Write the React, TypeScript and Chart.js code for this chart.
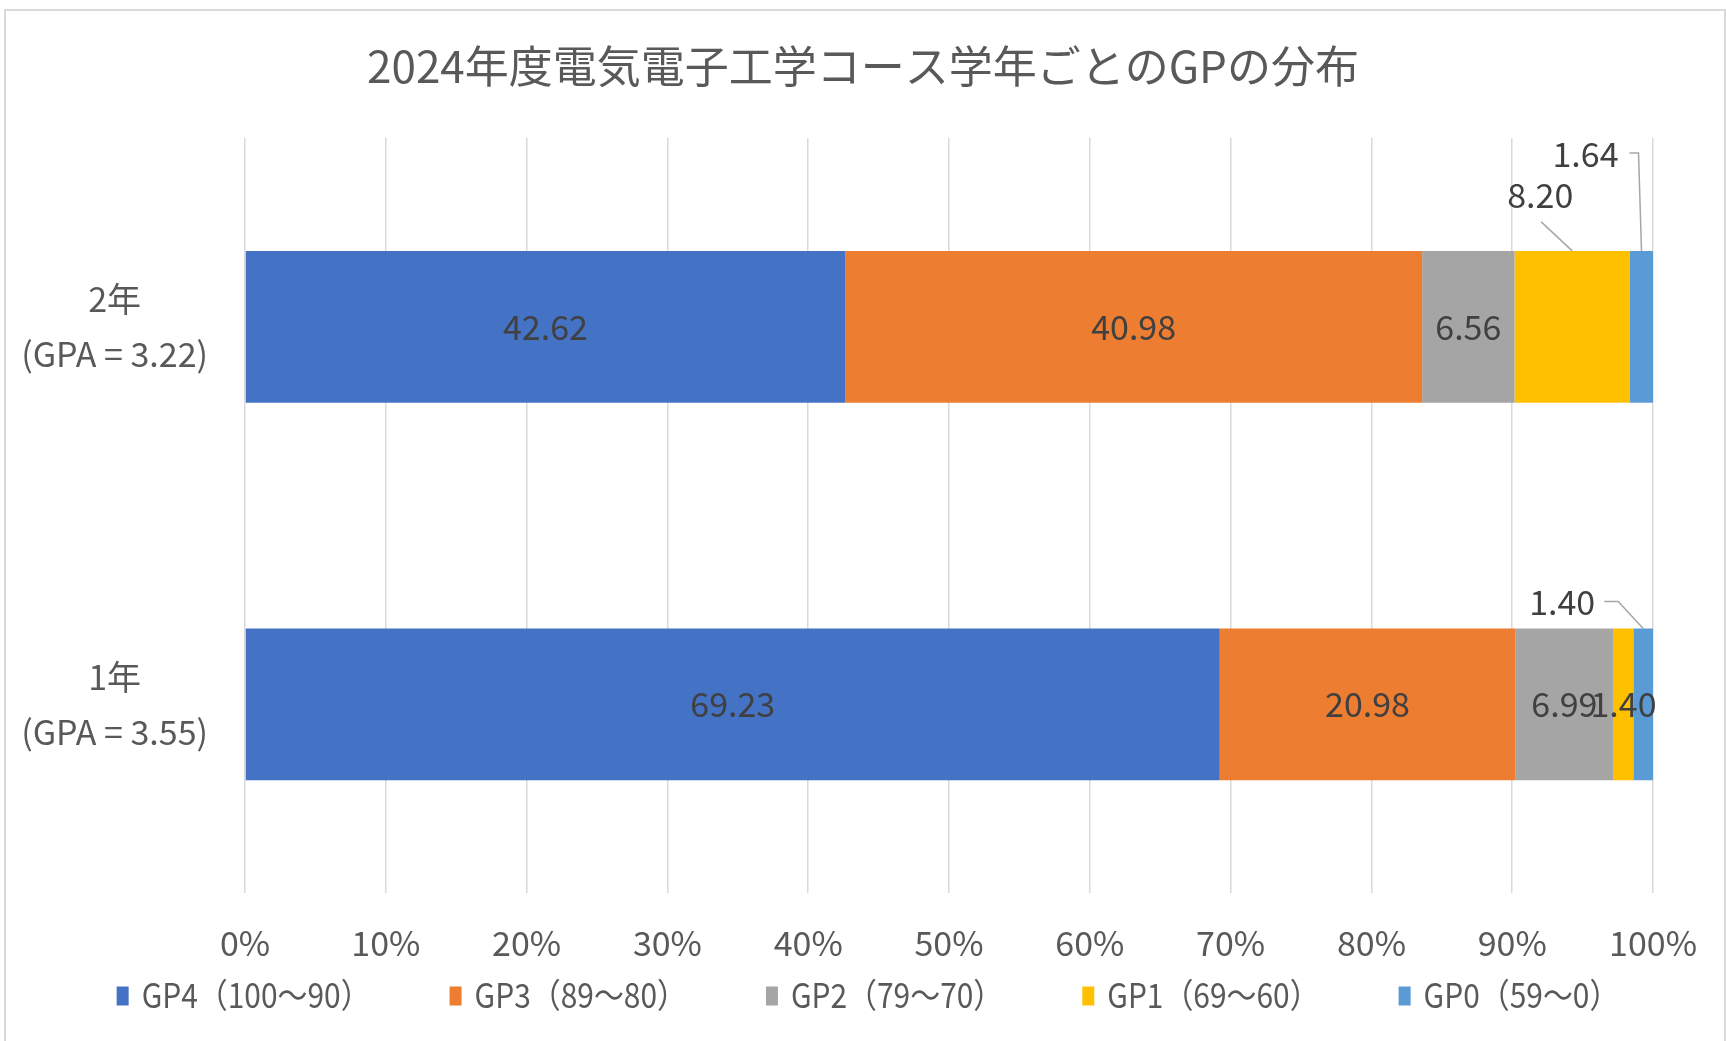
import React, { useEffect, useRef } from "react";
import { Chart, registerables } from "chart.js";

Chart.register(...registerables);

const FONT = "'Noto Sans CJK JP', 'Noto Sans', sans-serif";

const chartTitle = "2024年度電気電子工学コース学年ごとのGPの分布";
const categories = [
  ["2年", "(GPA = 3.22)"],
  ["1年", "(GPA = 3.55)"],
];
const seriesNames = ["GP4（100～90）", "GP3（89～80）", "GP2（79～70）", "GP1（69～60）", "GP0（59～0）"];
const gp4 = [42.62, 69.23];
const gp3 = [40.98, 20.98];
const gp2 = [6.56, 6.99];
const gp1 = [8.2, 1.4];
const gp0 = [1.64, 1.4];
const xTickLabels = ["0%", "10%", "20%", "30%", "40%", "50%", "60%", "70%", "80%", "90%", "100%"];
const seriesColors = ["#4472C4", "#ED7D31", "#A5A5A5", "#FFC000", "#5B9BD5"];

// callout labels (dataset-category): offsets relative to segment centre / bar top
const callouts: Record<string, { dx: number; dy: number; leader: string; gap?: number; run?: number }> = {
  "3-0": { dx: -32, dy: -56, leader: "below" },
  "4-0": { dx: -56, dy: -97, leader: "side", gap: 11, run: 9 },
  "4-1": { dx: -81, dy: -26, leader: "side", gap: 9, run: 14 },
};

const titlePlugin = {
  id: "centredTitle",
  afterDraw(chart: any) {
    const ctx = chart.ctx as CanvasRenderingContext2D;
    ctx.save();
    ctx.font = `44px ${FONT}`;
    ctx.fillStyle = "#595959";
    ctx.textAlign = "center";
    ctx.textBaseline = "middle";
    ctx.fillText(chartTitle, chart.width / 2, 66);
    ctx.restore();
  },
};

const labelPlugin = {
  id: "segLabels",
  afterDatasetsDraw(chart: any) {
    const ctx = chart.ctx as CanvasRenderingContext2D;
    ctx.save();
    ctx.font = `34px ${FONT}`;
    ctx.textAlign = "center";
    ctx.textBaseline = "middle";
    chart.data.datasets.forEach((ds: any, di: number) => {
      const meta = chart.getDatasetMeta(di);
      meta.data.forEach((el: any, i: number) => {
        const v = ds.data[i] as number;
        const cx = (el.x + el.base) / 2;
        const top = el.y - el.height / 2;
        const text = v.toFixed(2);
        const o = callouts[`${di}-${i}`];
        ctx.fillStyle = "#404040";
        if (!o) {
          ctx.fillText(text, cx, el.y);
          return;
        }
        const lx = cx + o.dx;
        const ly = top + o.dy;
        ctx.fillText(text, lx, ly);
        ctx.strokeStyle = "#A6A6A6";
        ctx.lineWidth = 1.5;
        ctx.beginPath();
        if (o.leader === "below") {
          ctx.moveTo(lx + 1, ly + 27);
          ctx.lineTo(cx, top);
        } else {
          const w = ctx.measureText(text).width;
          const sx = lx + w / 2 + (o.gap || 10);
          ctx.moveTo(sx, ly - 1);
          ctx.lineTo(sx + (o.run || 10), ly - 1);
          ctx.lineTo(cx, top);
        }
        ctx.stroke();
      });
    });
    ctx.restore();
  },
};

const legendPlugin = {
  id: "customLegend",
  afterDraw(chart: any) {
    const ctx = chart.ctx as CanvasRenderingContext2D;
    ctx.save();
    ctx.font = `34px ${FONT}`;
    const sx = 0.88;
    const items = chart.data.datasets.map((ds: any) => ({
      label: ds.label as string,
      color: ds.backgroundColor as string,
      w: ctx.measureText(ds.label).width * sx,
    }));
    const boxW = 12, boxH = 19, boxGap = 13, itemGap = 79;
    const total =
      items.reduce((a: number, it: any) => a + boxW + boxGap + it.w, 0) + itemGap * (items.length - 1);
    let x = (chart.width - total) / 2 + 5;
    const y = 995;
    items.forEach((it: any) => {
      ctx.fillStyle = it.color;
      ctx.fillRect(x, y - boxH / 2 + 1, boxW, boxH);
      x += boxW + boxGap;
      ctx.save();
      ctx.translate(x, y);
      ctx.scale(sx, 1);
      ctx.fillStyle = "#595959";
      ctx.textAlign = "left";
      ctx.textBaseline = "middle";
      ctx.fillText(it.label, 0, 0);
      ctx.restore();
      x += it.w + itemGap;
    });
    ctx.restore();
  },
};

export default function App() {
  const ref = useRef<HTMLCanvasElement | null>(null);
  useEffect(() => {
    if (!ref.current) return;
    const series = [gp4, gp3, gp2, gp1, gp0];
    const chart = new Chart(ref.current, {
      type: "bar",
      data: {
        labels: categories,
        datasets: series.map((d, i) => ({
          label: seriesNames[i],
          data: d,
          backgroundColor: seriesColors[i],
          borderWidth: 0,
          categoryPercentage: 1,
          barPercentage: 0.402,
        })),
      },
      options: {
        responsive: false,
        animation: false,
        indexAxis: "y",
        layout: { padding: { left: 0, right: 72, top: 138, bottom: 49 } },
        plugins: {
          legend: { display: false },
          tooltip: { enabled: false },
          title: { display: false },
        },
        scales: {
          x: {
            stacked: true,
            min: 0,
            max: 100,
            ticks: {
              stepSize: 10,
              autoSkip: false,
              maxRotation: 0,
              callback: (_v: any, i: number) => xTickLabels[i],
              color: "#595959",
              font: { family: FONT, size: 34 },
              padding: 29,
            },
            grid: { color: "#D9D9D9", lineWidth: 1.5, drawTicks: false },
            border: { display: false },
          },
          y: {
            stacked: true,
            ticks: {
              color: "#595959",
              font: { family: FONT, size: 34, lineHeight: 1.63 },
              padding: 37,
              crossAlign: "center",
            },
            grid: { display: false, drawTicks: false },
            border: { display: false },
            afterFit: (s: any) => {
              s.width = 245;
            },
          },
        },
      } as any,
      plugins: [labelPlugin, legendPlugin, titlePlugin],
    });
    return () => chart.destroy();
  }, []);

  return (
    <div
      style={{
        position: "fixed",
        left: 0,
        top: 0,
        width: 1726,
        height: 1041,
        background: "#FFFFFF",
        overflow: "hidden",
      }}
    >
      <div
        style={{
          position: "absolute",
          left: 4,
          top: 9,
          width: 1722,
          height: 1100,
          boxSizing: "border-box",
          border: "2px solid #D9D9D9",
        }}
      />
      <canvas
        ref={ref}
        width={1726}
        height={1041}
        style={{ position: "absolute", left: 0, top: 0, width: 1726, height: 1041 }}
      />
    </div>
  );
}
